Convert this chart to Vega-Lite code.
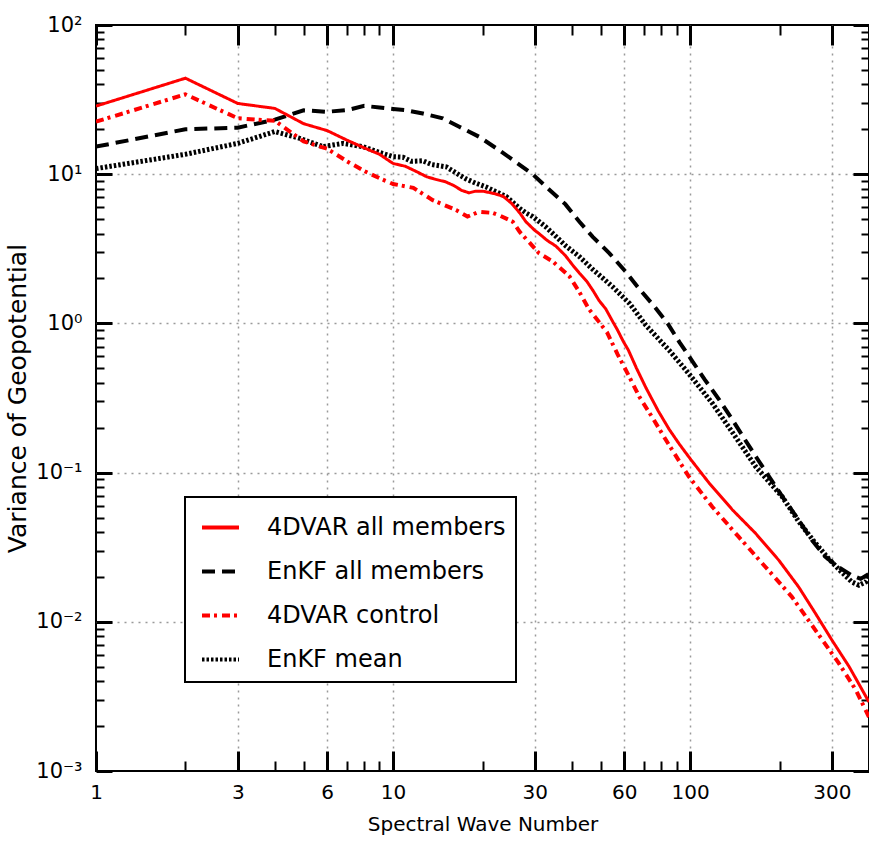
{
  "$schema": "https://vega.github.io/schema/vega-lite/v6.json",
  "width": 773,
  "height": 746,
  "autosize": "none",
  "padding": {"left": 96, "top": 25, "right": 0, "bottom": 70},
  "background": "white",
  "config": {
    "font": "DejaVu Sans",
    "view": {"stroke": "black", "strokeWidth": 2, "fill": "white"},
    "axis": {"labelFont": "DejaVu Sans", "titleFont": "DejaVu Sans", "labelColor": "black", "titleColor": "black"}
  },
  "data": {
    "values": [
      {"k": 1, "v": 28.6, "s": "4DVAR all members"},
      {"k": 2, "v": 44, "s": "4DVAR all members"},
      {"k": 3, "v": 29.8, "s": "4DVAR all members"},
      {"k": 4, "v": 27.6, "s": "4DVAR all members"},
      {"k": 5, "v": 21.8, "s": "4DVAR all members"},
      {"k": 6, "v": 19.6, "s": "4DVAR all members"},
      {"k": 7, "v": 16.9, "s": "4DVAR all members"},
      {"k": 8, "v": 15.0, "s": "4DVAR all members"},
      {"k": 9, "v": 13.6, "s": "4DVAR all members"},
      {"k": 10, "v": 11.8, "s": "4DVAR all members"},
      {"k": 11, "v": 11.3, "s": "4DVAR all members"},
      {"k": 12, "v": 10.4, "s": "4DVAR all members"},
      {"k": 13, "v": 9.6, "s": "4DVAR all members"},
      {"k": 14, "v": 9.2, "s": "4DVAR all members"},
      {"k": 15, "v": 8.9, "s": "4DVAR all members"},
      {"k": 16, "v": 8.4, "s": "4DVAR all members"},
      {"k": 17, "v": 7.8, "s": "4DVAR all members"},
      {"k": 18, "v": 7.5, "s": "4DVAR all members"},
      {"k": 19, "v": 7.7, "s": "4DVAR all members"},
      {"k": 20, "v": 7.7, "s": "4DVAR all members"},
      {"k": 22, "v": 7.4, "s": "4DVAR all members"},
      {"k": 23.5, "v": 7.1, "s": "4DVAR all members"},
      {"k": 25, "v": 6.4, "s": "4DVAR all members"},
      {"k": 26.7, "v": 5.5, "s": "4DVAR all members"},
      {"k": 28, "v": 4.8, "s": "4DVAR all members"},
      {"k": 30, "v": 4.2, "s": "4DVAR all members"},
      {"k": 31, "v": 4.0, "s": "4DVAR all members"},
      {"k": 33, "v": 3.6, "s": "4DVAR all members"},
      {"k": 35.3, "v": 3.3, "s": "4DVAR all members"},
      {"k": 38, "v": 2.85, "s": "4DVAR all members"},
      {"k": 40.3, "v": 2.45, "s": "4DVAR all members"},
      {"k": 42.4, "v": 2.17, "s": "4DVAR all members"},
      {"k": 45, "v": 1.9, "s": "4DVAR all members"},
      {"k": 47, "v": 1.67, "s": "4DVAR all members"},
      {"k": 49.4, "v": 1.42, "s": "4DVAR all members"},
      {"k": 52, "v": 1.25, "s": "4DVAR all members"},
      {"k": 55, "v": 1.02, "s": "4DVAR all members"},
      {"k": 57, "v": 0.9, "s": "4DVAR all members"},
      {"k": 59.5, "v": 0.76, "s": "4DVAR all members"},
      {"k": 62, "v": 0.66, "s": "4DVAR all members"},
      {"k": 66, "v": 0.5, "s": "4DVAR all members"},
      {"k": 71, "v": 0.37, "s": "4DVAR all members"},
      {"k": 78, "v": 0.26, "s": "4DVAR all members"},
      {"k": 85, "v": 0.195, "s": "4DVAR all members"},
      {"k": 92, "v": 0.155, "s": "4DVAR all members"},
      {"k": 100, "v": 0.124, "s": "4DVAR all members"},
      {"k": 116, "v": 0.0848, "s": "4DVAR all members"},
      {"k": 139, "v": 0.0561, "s": "4DVAR all members"},
      {"k": 166, "v": 0.0392, "s": "4DVAR all members"},
      {"k": 199, "v": 0.0258, "s": "4DVAR all members"},
      {"k": 232, "v": 0.0171, "s": "4DVAR all members"},
      {"k": 264, "v": 0.0114, "s": "4DVAR all members"},
      {"k": 300, "v": 0.00755, "s": "4DVAR all members"},
      {"k": 343, "v": 0.005, "s": "4DVAR all members"},
      {"k": 400, "v": 0.0029, "s": "4DVAR all members"},

      {"k": 1, "v": 15.3, "s": "EnKF all members"},
      {"k": 2, "v": 20.0, "s": "EnKF all members"},
      {"k": 3, "v": 20.5, "s": "EnKF all members"},
      {"k": 4, "v": 23.2, "s": "EnKF all members"},
      {"k": 5, "v": 26.8, "s": "EnKF all members"},
      {"k": 6, "v": 26.2, "s": "EnKF all members"},
      {"k": 7, "v": 26.9, "s": "EnKF all members"},
      {"k": 8, "v": 28.7, "s": "EnKF all members"},
      {"k": 9, "v": 28.0, "s": "EnKF all members"},
      {"k": 10, "v": 27.4, "s": "EnKF all members"},
      {"k": 11, "v": 26.9, "s": "EnKF all members"},
      {"k": 12.6, "v": 25.5, "s": "EnKF all members"},
      {"k": 14.7, "v": 23.7, "s": "EnKF all members"},
      {"k": 16.7, "v": 20.8, "s": "EnKF all members"},
      {"k": 19.5, "v": 17.8, "s": "EnKF all members"},
      {"k": 22.5, "v": 14.7, "s": "EnKF all members"},
      {"k": 26, "v": 12.0, "s": "EnKF all members"},
      {"k": 29.5, "v": 10.0, "s": "EnKF all members"},
      {"k": 33.5, "v": 7.9, "s": "EnKF all members"},
      {"k": 38, "v": 6.3, "s": "EnKF all members"},
      {"k": 42.4, "v": 4.8, "s": "EnKF all members"},
      {"k": 47, "v": 3.8, "s": "EnKF all members"},
      {"k": 53.5, "v": 2.95, "s": "EnKF all members"},
      {"k": 60.7, "v": 2.22, "s": "EnKF all members"},
      {"k": 66.5, "v": 1.76, "s": "EnKF all members"},
      {"k": 76, "v": 1.29, "s": "EnKF all members"},
      {"k": 84, "v": 1.0, "s": "EnKF all members"},
      {"k": 92, "v": 0.75, "s": "EnKF all members"},
      {"k": 101, "v": 0.57, "s": "EnKF all members"},
      {"k": 112, "v": 0.42, "s": "EnKF all members"},
      {"k": 125, "v": 0.31, "s": "EnKF all members"},
      {"k": 139, "v": 0.225, "s": "EnKF all members"},
      {"k": 153, "v": 0.166, "s": "EnKF all members"},
      {"k": 170, "v": 0.12, "s": "EnKF all members"},
      {"k": 187, "v": 0.09, "s": "EnKF all members"},
      {"k": 207, "v": 0.0665, "s": "EnKF all members"},
      {"k": 232, "v": 0.048, "s": "EnKF all members"},
      {"k": 257, "v": 0.0353, "s": "EnKF all members"},
      {"k": 284, "v": 0.0275, "s": "EnKF all members"},
      {"k": 316, "v": 0.0232, "s": "EnKF all members"},
      {"k": 350, "v": 0.0205, "s": "EnKF all members"},
      {"k": 375, "v": 0.0194, "s": "EnKF all members"},
      {"k": 400, "v": 0.021, "s": "EnKF all members"},

      {"k": 1, "v": 22.5, "s": "4DVAR control"},
      {"k": 2, "v": 34.3, "s": "4DVAR control"},
      {"k": 3, "v": 23.7, "s": "4DVAR control"},
      {"k": 4, "v": 22.8, "s": "4DVAR control"},
      {"k": 5, "v": 16.6, "s": "4DVAR control"},
      {"k": 6, "v": 14.8, "s": "4DVAR control"},
      {"k": 7, "v": 12.2, "s": "4DVAR control"},
      {"k": 8, "v": 10.5, "s": "4DVAR control"},
      {"k": 9, "v": 9.4, "s": "4DVAR control"},
      {"k": 10, "v": 8.6, "s": "4DVAR control"},
      {"k": 11.7, "v": 8.1, "s": "4DVAR control"},
      {"k": 13.6, "v": 6.7, "s": "4DVAR control"},
      {"k": 16.3, "v": 5.75, "s": "4DVAR control"},
      {"k": 17.8, "v": 5.2, "s": "4DVAR control"},
      {"k": 19.5, "v": 5.6, "s": "4DVAR control"},
      {"k": 21.7, "v": 5.5, "s": "4DVAR control"},
      {"k": 22.8, "v": 5.3, "s": "4DVAR control"},
      {"k": 25.3, "v": 4.8, "s": "4DVAR control"},
      {"k": 26.7, "v": 4.1, "s": "4DVAR control"},
      {"k": 29.5, "v": 3.3, "s": "4DVAR control"},
      {"k": 31, "v": 2.95, "s": "4DVAR control"},
      {"k": 34.5, "v": 2.6, "s": "4DVAR control"},
      {"k": 39.3, "v": 2.06, "s": "4DVAR control"},
      {"k": 42.4, "v": 1.62, "s": "4DVAR control"},
      {"k": 45.6, "v": 1.25, "s": "4DVAR control"},
      {"k": 49.4, "v": 1.02, "s": "4DVAR control"},
      {"k": 52.5, "v": 0.87, "s": "4DVAR control"},
      {"k": 57, "v": 0.62, "s": "4DVAR control"},
      {"k": 62, "v": 0.45, "s": "4DVAR control"},
      {"k": 67.4, "v": 0.323, "s": "4DVAR control"},
      {"k": 75, "v": 0.23, "s": "4DVAR control"},
      {"k": 82.8, "v": 0.166, "s": "4DVAR control"},
      {"k": 99, "v": 0.094, "s": "4DVAR control"},
      {"k": 118.7, "v": 0.059, "s": "4DVAR control"},
      {"k": 145.5, "v": 0.0372, "s": "4DVAR control"},
      {"k": 179, "v": 0.0234, "s": "4DVAR control"},
      {"k": 220, "v": 0.0147, "s": "4DVAR control"},
      {"k": 264, "v": 0.0088, "s": "4DVAR control"},
      {"k": 316, "v": 0.0053, "s": "4DVAR control"},
      {"k": 361, "v": 0.0035, "s": "4DVAR control"},
      {"k": 400, "v": 0.0023, "s": "4DVAR control"},

      {"k": 1, "v": 10.9, "s": "EnKF mean"},
      {"k": 2, "v": 13.6, "s": "EnKF mean"},
      {"k": 3, "v": 16.1, "s": "EnKF mean"},
      {"k": 4, "v": 19.3, "s": "EnKF mean"},
      {"k": 4.85, "v": 17.4, "s": "EnKF mean"},
      {"k": 5.8, "v": 15.3, "s": "EnKF mean"},
      {"k": 6.8, "v": 16.1, "s": "EnKF mean"},
      {"k": 7.9, "v": 15.3, "s": "EnKF mean"},
      {"k": 9.2, "v": 13.8, "s": "EnKF mean"},
      {"k": 10, "v": 13.1, "s": "EnKF mean"},
      {"k": 10.8, "v": 13.0, "s": "EnKF mean"},
      {"k": 11.5, "v": 12.2, "s": "EnKF mean"},
      {"k": 12.6, "v": 12.3, "s": "EnKF mean"},
      {"k": 13.5, "v": 11.6, "s": "EnKF mean"},
      {"k": 15.1, "v": 11.2, "s": "EnKF mean"},
      {"k": 16.7, "v": 9.9, "s": "EnKF mean"},
      {"k": 17.6, "v": 9.3, "s": "EnKF mean"},
      {"k": 19, "v": 8.7, "s": "EnKF mean"},
      {"k": 20.6, "v": 8.2, "s": "EnKF mean"},
      {"k": 21.7, "v": 7.8, "s": "EnKF mean"},
      {"k": 24, "v": 7.1, "s": "EnKF mean"},
      {"k": 26.7, "v": 5.9, "s": "EnKF mean"},
      {"k": 28, "v": 5.5, "s": "EnKF mean"},
      {"k": 29.5, "v": 5.2, "s": "EnKF mean"},
      {"k": 32.6, "v": 4.45, "s": "EnKF mean"},
      {"k": 35, "v": 3.9, "s": "EnKF mean"},
      {"k": 38.2, "v": 3.3, "s": "EnKF mean"},
      {"k": 42.4, "v": 2.8, "s": "EnKF mean"},
      {"k": 47, "v": 2.3, "s": "EnKF mean"},
      {"k": 51, "v": 2.0, "s": "EnKF mean"},
      {"k": 55, "v": 1.75, "s": "EnKF mean"},
      {"k": 62.5, "v": 1.36, "s": "EnKF mean"},
      {"k": 71, "v": 0.97, "s": "EnKF mean"},
      {"k": 85, "v": 0.66, "s": "EnKF mean"},
      {"k": 99, "v": 0.46, "s": "EnKF mean"},
      {"k": 119, "v": 0.29, "s": "EnKF mean"},
      {"k": 142, "v": 0.174, "s": "EnKF mean"},
      {"k": 166, "v": 0.11, "s": "EnKF mean"},
      {"k": 204, "v": 0.069, "s": "EnKF mean"},
      {"k": 232, "v": 0.047, "s": "EnKF mean"},
      {"k": 260, "v": 0.035, "s": "EnKF mean"},
      {"k": 290, "v": 0.027, "s": "EnKF mean"},
      {"k": 320, "v": 0.022, "s": "EnKF mean"},
      {"k": 350, "v": 0.0185, "s": "EnKF mean"},
      {"k": 370, "v": 0.0176, "s": "EnKF mean"},
      {"k": 390, "v": 0.0185, "s": "EnKF mean"},
      {"k": 400, "v": 0.02, "s": "EnKF mean"}
    ]
  },
  "encoding": {
    "color": {
      "field": "s",
      "type": "nominal",
      "scale": {
        "domain": ["4DVAR all members", "EnKF all members", "4DVAR control", "EnKF mean"],
        "range": ["#ff0000", "#000000", "#ff0000", "#000000"]
      },
      "legend": {
        "title": null,
        "orient": "none",
        "legendX": 89,
        "legendY": 472,
        "direction": "vertical",
        "symbolType": "stroke",
        "symbolSize": 1369,
        "symbolStrokeWidth": 4,
        "labelFont": "DejaVu Sans",
        "labelFontSize": 24,
        "labelColor": "black",
        "labelLimit": 500,
        "labelOffset": 26,
        "rowPadding": 11,
        "padding": 10,
        "symbolOffset": 5,
        "strokeColor": "black",
        "fillColor": "white",
        "cornerRadius": 0,
        "encode": {"legend": {"update": {"strokeWidth": {"value": 2}}}}
      }
    },
    "strokeDash": {
      "field": "s",
      "type": "nominal",
      "scale": {
        "domain": ["4DVAR all members", "EnKF all members", "4DVAR control", "EnKF mean"],
        "range": [[1, 0], [13, 7], [8, 4, 3, 5], [2.5, 2]]
      },
      "legend": {
        "title": null,
        "orient": "none",
        "legendX": 89,
        "legendY": 472,
        "direction": "vertical",
        "symbolType": "stroke",
        "symbolSize": 1369,
        "symbolStrokeWidth": 4,
        "labelFont": "DejaVu Sans",
        "labelFontSize": 24,
        "labelColor": "black",
        "labelLimit": 500,
        "labelOffset": 26,
        "rowPadding": 11,
        "padding": 10,
        "symbolOffset": 5,
        "strokeColor": "black",
        "fillColor": "white",
        "cornerRadius": 0
      }
    }
  },
  "layer": [
    {
      "transform": [{"filter": "datum.s === 'EnKF all members'"}],
      "mark": {"type": "line", "strokeWidth": 4, "strokeCap": "butt", "clip": true},
      "encoding": {
        "x": {
          "field": "k", "type": "quantitative",
          "scale": {"type": "log", "domain": [1, 400], "nice": false},
          "axis": {
            "orient": "bottom",
            "values": [1, 2, 3, 4, 5, 6, 7, 8, 9, 10, 20, 30, 40, 50, 60, 70, 80, 90, 100, 200, 300],
            "labels": false, "domain": false, "grid": false, "title": null,
            "ticks": true, "tickColor": "black",
            "tickSize": {"condition": {"test": "indexof([1,3,6,10,30,60,100,300], datum.value) >= 0", "value": -20}, "value": -10},
            "tickWidth": {"condition": {"test": "indexof([1,3,6,10,30,60,100,300], datum.value) >= 0", "value": 3}, "value": 2}
          }
        },
        "y": {
          "field": "v", "type": "quantitative",
          "scale": {"type": "log", "domain": [0.001, 100], "nice": false},
          "axis": {
            "orient": "left",
            "values": [0.001, 0.002, 0.003, 0.004, 0.005, 0.006, 0.007, 0.008, 0.009, 0.01, 0.02, 0.03, 0.04, 0.05, 0.06, 0.07, 0.08, 0.09, 0.1, 0.2, 0.3, 0.4, 0.5, 0.6, 0.7, 0.8, 0.9, 1, 2, 3, 4, 5, 6, 7, 8, 9, 10, 20, 30, 40, 50, 60, 70, 80, 90, 100],
            "labels": false, "domain": false, "grid": false, "title": null,
            "ticks": true, "tickColor": "black",
            "tickSize": {"condition": {"test": "abs(log(datum.value)/LN10 - round(log(datum.value)/LN10)) < 0.001", "value": -16}, "value": -8},
            "tickWidth": {"condition": {"test": "abs(log(datum.value)/LN10 - round(log(datum.value)/LN10)) < 0.001", "value": 3}, "value": 2}
          }
        }
      }
    },
    {
      "transform": [{"filter": "datum.s === 'EnKF mean'"}],
      "mark": {"type": "line", "strokeWidth": 5, "strokeCap": "butt", "clip": true},
      "encoding": {
        "x": {
          "field": "k", "type": "quantitative",
          "scale": {"type": "log", "domain": [1, 400], "nice": false},
          "axis": {
            "orient": "top",
            "values": [1, 2, 3, 4, 5, 6, 7, 8, 9, 10, 20, 30, 40, 50, 60, 70, 80, 90, 100, 200, 300],
            "labels": false, "domain": false, "grid": false, "title": null,
            "ticks": true, "tickColor": "black",
            "tickSize": {"condition": {"test": "indexof([1,3,6,10,30,60,100,300], datum.value) >= 0", "value": -20}, "value": -10},
            "tickWidth": {"condition": {"test": "indexof([1,3,6,10,30,60,100,300], datum.value) >= 0", "value": 3}, "value": 2}
          }
        },
        "y": {
          "field": "v", "type": "quantitative",
          "scale": {"type": "log", "domain": [0.001, 100], "nice": false},
          "axis": {
            "orient": "right",
            "values": [0.001, 0.002, 0.003, 0.004, 0.005, 0.006, 0.007, 0.008, 0.009, 0.01, 0.02, 0.03, 0.04, 0.05, 0.06, 0.07, 0.08, 0.09, 0.1, 0.2, 0.3, 0.4, 0.5, 0.6, 0.7, 0.8, 0.9, 1, 2, 3, 4, 5, 6, 7, 8, 9, 10, 20, 30, 40, 50, 60, 70, 80, 90, 100],
            "labels": false, "domain": false, "grid": false, "title": null,
            "ticks": true, "tickColor": "black",
            "tickSize": {"condition": {"test": "abs(log(datum.value)/LN10 - round(log(datum.value)/LN10)) < 0.001", "value": -16}, "value": -8},
            "tickWidth": {"condition": {"test": "abs(log(datum.value)/LN10 - round(log(datum.value)/LN10)) < 0.001", "value": 3}, "value": 2}
          }
        }
      }
    },
    {
      "transform": [{"filter": "datum.s === '4DVAR control'"}],
      "mark": {"type": "line", "strokeWidth": 4, "strokeCap": "butt", "clip": true},
      "encoding": {
        "x": {
          "field": "k", "type": "quantitative",
          "scale": {"type": "log", "domain": [1, 400], "nice": false},
          "axis": null
        },
        "y": {
          "field": "v", "type": "quantitative",
          "scale": {"type": "log", "domain": [0.001, 100], "nice": false},
          "axis": null
        }
      }
    },
    {
      "transform": [{"filter": "datum.s === '4DVAR all members'"}],
      "mark": {"type": "line", "strokeWidth": 3, "strokeCap": "butt", "clip": true},
      "encoding": {
        "x": {
          "field": "k", "type": "quantitative",
          "scale": {"type": "log", "domain": [1, 400], "nice": false},
          "axis": {
            "orient": "bottom",
            "values": [1, 3, 6, 10, 30, 60, 100, 300],
            "format": "d",
            "labelFlush": false,
            "labelOverlap": false,
            "labelFontSize": 20,
            "labelPadding": 11,
            "ticks": false,
            "domain": false,
            "grid": true,
            "gridColor": "#9a9a9a",
            "gridDash": [2, 5],
            "gridWidth": 1.5,
            "gridOpacity": {"condition": {"test": "datum.value == 1", "value": 0}, "value": 1},
            "title": "Spectral Wave Number",
            "titleFontSize": 20,
            "titleFontWeight": "normal",
            "titlePadding": 12
          }
        },
        "y": {
          "field": "v", "type": "quantitative",
          "scale": {"type": "log", "domain": [0.001, 100], "nice": false},
          "axis": {
            "orient": "left",
            "values": [0.001, 0.01, 0.1, 1, 10, 100],
            "labelExpr": "['10⁻³','10⁻²','10⁻¹','10⁰','10¹','10²'][round(log(datum.value)/LN10)+3]",
            "labelFlush": false,
            "labelOverlap": false,
            "labelFontSize": 21,
            "labelPadding": 14,
            "ticks": false,
            "domain": false,
            "grid": true,
            "gridColor": "#9a9a9a",
            "gridDash": [2, 5],
            "gridWidth": 1.5,
            "gridOpacity": {"condition": {"test": "datum.value >= 99 || datum.value <= 0.00101", "value": 0}, "value": 1},
            "title": "Variance of Geopotential",
            "titleFontSize": 25,
            "titleFontWeight": "normal",
            "titlePadding": 5
          }
        }
      }
    }
  ],
  "resolve": {"axis": {"x": "independent", "y": "independent"}}
}
